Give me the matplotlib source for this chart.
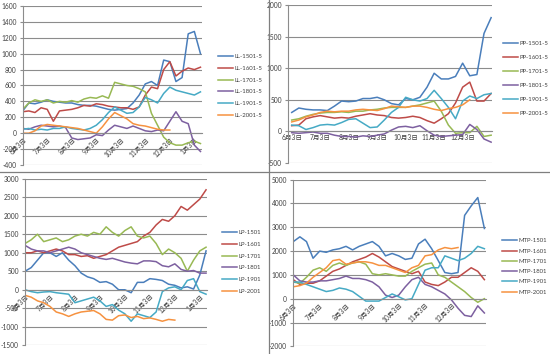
import numpy as np
import matplotlib
matplotlib.use("Agg")
import matplotlib.pyplot as plt
from matplotlib.lines import Line2D

plt.rcParams['font.family'] = ['Lato', 'Noto Sans CJK SC', 'DejaVu Sans']
plt.rcParams['axes.unicode_minus'] = False

# month labels on the category axis
month_labels = ['6月3日', '7月3日', '8月3日', '9月3日', '10月3日', '11月3日', '12月3日', '1月3日']

colors = ['#4A7EBB', '#BE4B48', '#98B954', '#7D60A0', '#46AAC5', '#F69240']

# ---- LL spread (values read roughly every quarter month) ----
ll_names = ['LL-1501-5', 'LL-1601-5', 'LL-1701-5', 'LL-1801-5', 'LL-1901-5', 'LL-2001-5']
ll_1501 = [280, 380, 370, 390, 420, 400, 390, 380, 380, 360, 350, 350, 340, 320, 300, 290,
           300, 310, 380, 480, 620, 650, 600, 920, 900, 650, 700, 1250, 1280, 1000]
ll_1601 = [270, 280, 260, 320, 300, 150, 280, 290, 300, 320, 350, 340, 370, 360, 340, 330,
           320, 320, 300, 330, 480, 580, 560, 800, 900, 720, 780, 820, 800, 830]
ll_1701 = [300, 380, 420, 400, 420, 380, 400, 390, 410, 390, 430, 450, 440, 470, 440, 640,
           620, 600, 590, 560, 520, 250, 100, -50, -120, -150, -150, -120, -100, -130]
ll_1801 = [60, 50, 80, 100, 90, 80, 90, 70, -60, -80, -70, -60, -20, -30, 40, 100,
           80, 60, 90, 60, 30, 20, 40, 30, 150, 270, 150, 120, -150, -230]
ll_1901 = [50, 60, 40, 50, 40, 60, 60, 80, 60, 50, 40, 60, 100, 170, 260, 330,
           290, 250, 260, 330, 450, 420, 380, 500, 580, 540, 520, 500, 480, 520]
ll_2001 = [0, 0, 30, 90, 110, 100, 90, 80, 70, 60, 40, 20, 0, 80, 180, 260,
           220, 180, 120, 100, 90, 70, 50, 40, 40]

# ---- PP spread ----
pp_names = ['PP-1501-5', 'PP-1601-5', 'PP-1701-5', 'PP-1801-5', 'PP-1901-5', 'PP-2001-5']
pp_1501 = [300, 370, 350, 340, 340, 330, 400, 480, 470, 480, 520, 520, 540, 500, 440, 420,
           520, 500, 540, 700, 920, 830, 830, 870, 1080, 880, 900, 1550, 1800]
pp_1601 = [90, 100, 200, 230, 250, 230, 210, 220, 210, 240, 260, 280, 260, 250, 220, 210,
           220, 240, 220, 170, 130, 200, 280, 450, 700, 780, 480, 480, 600]
pp_1701 = [180, 200, 240, 270, 290, 300, 300, 310, 300, 320, 320, 340, 350, 370, 380, 380,
           380, 400, 420, 450, 480, 320, 100, -30, -20, -20, 80, -80, -60]
pp_1801 = [-20, -30, -20, -10, -30, -30, -60, -80, -80, -90, -70, -80, -60, -40, 20, 70,
           80, 60, 90, 10, -60, -80, -70, -60, -50, 110, 30, -120, -170]
pp_1901 = [100, 90, 30, 60, 100, 110, 100, 140, 190, 200, 130, 60, 70, 180, 300, 380,
           540, 500, 480, 520, 650, 520, 380, 200, 480, 560, 520, 580, 600]
pp_2001 = [150, 180, 230, 260, 300, 320, 310, 320, 320, 340, 350, 340, 330, 360, 400, 390,
           380, 400, 400, 380, 350, 330, 360, 380, 420, 500]

# ---- LP spread ----
lp_names = ['LP-1501', 'LP-1601', 'LP-1701', 'LP-1801', 'LP-1901', 'LP-2001']
lp_1501 = [500, 600, 800, 1000, 1000, 900, 1000, 800, 650, 450, 350, 300, 200, 220, 150, 0,
           0, -80, 200, 200, 300, 280, 250, 150, 120, 50, 80, 20, 400, 1050]
lp_1601 = [1000, 1000, 1050, 1000, 1050, 1100, 1050, 950, 950, 900, 920, 850, 900, 950, 1050, 1150,
           1200, 1250, 1300, 1450, 1550, 1750, 1900, 1850, 2000, 2250, 2150, 2300, 2450, 2700]
lp_1701 = [1250, 1350, 1500, 1300, 1350, 1400, 1300, 1350, 1450, 1500, 1450, 1550, 1500, 1700, 1550, 1450,
           1600, 1700, 1450, 1400, 1450, 1250, 950, 1100, 1000, 850, 500, 800, 1050, 1150]
lp_1801 = [1200, 1100, 1050, 1050, 1000, 1050, 1100, 1150, 1100, 1000, 950, 900, 850, 820, 850, 800,
           750, 720, 700, 780, 780, 760, 650, 620, 700, 550, 500, 520, 450, 450]
lp_1901 = [0, -50, -80, -60, -50, -80, -100, -120, -350, -300, -250, -200, -300, -450, -400, -550,
           -650, -850, -650, -700, -750, -600, -50, 50, 80, 0, 250, 300, -50, -120]
lp_2001 = [-150, -200, -300, -350, -450, -600, -650, -720, -650, -600, -580, -560, -650, -800, -820, -700,
           -680, -750, -720, -780, -760, -800, -850, -800, -820]

# ---- MTP spread ----
mtp_names = ['MTP-1501', 'MTP-1601', 'MTP-1701', 'MTP-1801', 'MTP-1901', 'MTP-2001']
mtp_1501 = [2400, 2600, 2400, 1700, 2000, 1950, 2050, 2100, 2200, 2050, 2200, 2300, 2400, 2200, 1800, 1900,
            1800, 1650, 1700, 2300, 2500, 2100, 1600, 1100, 1050, 1100, 3500, 3900, 4250, 2950]
mtp_1601 = [800, 600, 650, 650, 750, 950, 1150, 1250, 1400, 1550, 1650, 1750, 1900, 1750, 1550, 1350,
            1250, 1150, 1050, 1150, 700, 600, 550, 700, 900, 900, 1100, 1300, 1150, 800]
mtp_1701 = [700, 650, 900, 1200, 1300, 1150, 1400, 1500, 1400, 1500, 1550, 1450, 1050, 1000, 1050, 1000,
            950, 950, 1150, 1300, 1450, 1500, 1000, 900, 700, 500, 300, 50, -150, 0]
mtp_1801 = [1000, 750, 700, 700, 750, 750, 800, 850, 950, 850, 850, 800, 700, 500, 150, 50,
            150, 500, 800, 900, 600, 500, 350, 200, -50, -400, -700, -750, -300, -600]
mtp_1901 = [700, 700, 600, 500, 400, 300, 350, 450, 400, 300, 100, -100, -100, -100, 50, 200,
            80, -50, 0, 600, 1200, 1300, 1300, 1800, 1700, 1600, 1700, 1900, 2200, 2100]
mtp_2001 = [500, 550, 650, 900, 1100, 1300, 1600, 1650, 1450, 1500, 1550, 1550, 1500, 1400, 1400, 1300,
            1200, 1100, 1300, 1400, 1800, 1850, 2050, 2150, 2100, 2150]

W, H = 550, 354
fig = plt.figure(figsize=(W / 100, H / 100), dpi=100)
fig.patch.set_facecolor('white')


def px_axes(x0, x1, y0, y1):
    return fig.add_axes([x0 / W, 1 - y1 / H, (x1 - x0) / W, (y1 - y0) / H])


def draw_panel(ax, series, names, ymin, ymax, ystep, xlim, rot, nlab,
               leg_x, leg_y, leg_space):
    for vals, name, c in zip(series, names, colors):
        t = np.arange(len(vals)) * 0.25
        ax.plot(t, vals, color=c, lw=1.1, label=name, solid_joinstyle='round')
    ax.set_ylim(ymin, ymax)
    ax.set_xlim(*xlim)
    ax.set_yticks(np.arange(ymin, ymax + 1, ystep))
    ax.yaxis.grid(True, color='#8c8c8c', lw=0.8)
    ax.set_axisbelow(True)
    for s in ['top', 'right']:
        ax.spines[s].set_visible(False)
    ax.spines['left'].set_color('#8c8c8c')
    ax.spines['left'].set_linewidth(0.8)
    ax.spines['bottom'].set_position(('data', 0))
    ax.spines['bottom'].set_color('#8c8c8c')
    ax.spines['bottom'].set_linewidth(0.8)
    ax.set_xticks(range(nlab))
    if rot:
        ax.set_xticklabels(month_labels[:nlab], rotation=45, ha='right', va='top',
                           rotation_mode='anchor')
    else:
        ax.set_xticklabels(month_labels[:nlab])
    ax.tick_params(axis='both', labelsize=4.8, colors='#404040', length=0, pad=2)
    ax.tick_params(axis='y', length=2.5, color='#8c8c8c', direction='out')
    ax.legend(loc='center left', bbox_to_anchor=(leg_x / W, 1 - leg_y / H),
              bbox_transform=fig.transFigure, frameon=False, fontsize=4.3,
              handlelength=2.5, handletextpad=0.3, labelspacing=leg_space,
              borderpad=0, borderaxespad=0, labelcolor='#404040')


ax1 = px_axes(22.7, 201.7, 6, 165)
draw_panel(ax1, [ll_1501, ll_1601, ll_1701, ll_1801, ll_1901, ll_2001], ll_names,
           -400, 1600, 200, (0, 7.3), True, 8, 218, 86, 1.09)

ax2 = px_axes(288.3, 491.7, 5, 163)
draw_panel(ax2, [pp_1501, pp_1601, pp_1701, pp_1801, pp_1901, pp_2001], pp_names,
           -500, 2000, 500, (-0.12, 7.02), False, 7, 503, 78.5, 1.46)

ax3 = px_axes(25, 207.3, 178.7, 345.3)
draw_panel(ax3, [lp_1501, lp_1601, lp_1701, lp_1801, lp_1901, lp_2001], lp_names,
           -1500, 3000, 500, (0, 7.3), True, 8, 222, 262, 1.09)

ax4 = px_axes(293.3, 485.7, 179.7, 346.3)
draw_panel(ax4, [mtp_1501, mtp_1601, mtp_1701, mtp_1801, mtp_1901, mtp_2001], mtp_names,
           -2000, 5000, 1000, (0, 7.3), True, 7, 502, 266.5, 0.85)

# chart borders between the four pictures
fig.add_artist(Line2D([269 / W, 269 / W], [0, 1], color='#7f7f7f', lw=0.9,
                      transform=fig.transFigure))
fig.add_artist(Line2D([0, 1], [1 - 172 / H, 1 - 172 / H], color='#7f7f7f', lw=0.9,
                      transform=fig.transFigure))

fig.savefig('out.png', dpi=100, facecolor='white')
